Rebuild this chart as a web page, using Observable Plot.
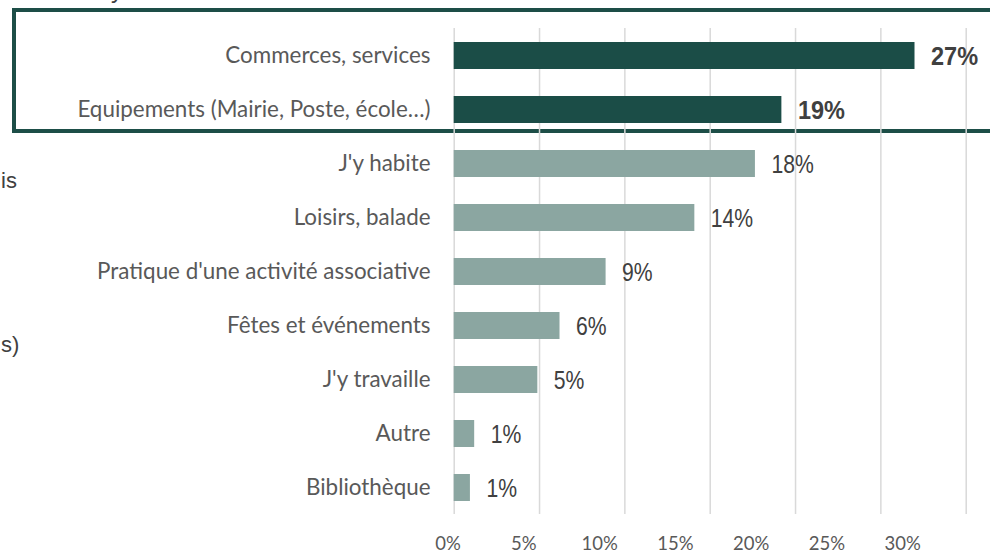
<!DOCTYPE html>
<html>
<head>
<meta charset="utf-8">
<script src="https://cdn.jsdelivr.net/npm/d3@7"></script>
<script src="https://cdn.jsdelivr.net/npm/@observablehq/plot@0.6"></script>
<style>
  html, body { margin: 0; padding: 0; background: #fff; }
  #wrap { position: relative; width: 990px; height: 552px; overflow: hidden; background: #fff; }
  #box { position: absolute; left: 12px; top: 8px; width: 1000px; height: 117px; border: 4px solid #1d4e47; z-index: 0; }
  #main, #ticks { position: absolute; left: 0; z-index: 1; }
  #main { top: 0; }
  #ticks { top: 517px; }
  .frag { position: absolute; font-family: "Liberation Sans", Arial, sans-serif; font-size: 22px; color: #404040; line-height: 24px; white-space: nowrap; z-index: 2; }
</style>
</head>
<body>
<div id="wrap">
  <div id="box"></div>
  <div class="frag" style="left:111px; top:-22px; font-size:24px;">y</div>
  <div class="frag" style="left:1px; top:169px;">is</div>
  <div class="frag" style="left:1px; top:333px;">s)</div>
  <div id="main"></div>
  <div id="ticks"></div>
</div>
<script>
const categories = [
  "Commerces, services",
  "Equipements (Mairie, Poste, école…)",
  "J'y habite",
  "Loisirs, balade",
  "Pratique d'une activité associative",
  "Fêtes et événements",
  "J'y travaille",
  "Autre",
  "Bibliothèque"
];
const values = [27.0, 19.2, 17.65, 14.1, 8.9, 6.2, 4.9, 1.2, 0.95];
const valueLabels = ["27%", "19%", "18%", "14%", "9%", "6%", "5%", "1%", "1%"];
const highlighted = [true, true, false, false, false, false, false, false, false];
const xTicks = [0, 5, 10, 15, 20, 25, 30];
const xTickLabels = ["0%", "5%", "10%", "15%", "20%", "25%", "30%"];

const data = categories.map((c, i) => ({cat: c, value: values[i], label: valueLabels[i], hi: highlighted[i]}));

const main = Plot.plot({
  width: 990,
  height: 552,
  marginLeft: 453.7,
  marginRight: 24.3,
  marginTop: 28,
  marginBottom: 38,
  style: {background: "transparent", overflow: "visible"},
  x: {domain: [0, 30], axis: null},
  y: {domain: categories, paddingInner: 0.5, paddingOuter: 0.25, label: null},
  marks: [
    Plot.ruleX(xTicks, {stroke: "#d9d9d9", strokeWidth: 1.5}),
    Plot.barX(data, {x: "value", y: "cat", fill: d => d.hi ? "#1b4d47" : "#8ba6a1"}),
    Plot.text(data.filter(d => d.hi), {x: "value", y: "cat", text: "label", dx: 16, dy: 1, textAnchor: "start",
      fontSize: 25, fontWeight: "bold", fill: "#404040", fontFamily: "'Liberation Sans', Arial, sans-serif"}),
    Plot.text(data.filter(d => !d.hi), {x: "value", y: "cat", text: "label", dx: 16, dy: 1, textAnchor: "start",
      fontSize: 25.5, fill: "#404040", fontFamily: "'Liberation Sans', Arial, sans-serif"}),
    Plot.axisY({tickSize: 0, tickPadding: 23.7, fontSize: 22.4, fill: "#595959", fontFamily: "Lato, sans-serif", label: null})
  ]
});
// narrow the value labels (the original uses a condensed face)
d3.select(main).selectAll('g[aria-label="text"] text').each(function() {
  const bold = this.parentNode.getAttribute("font-weight") === "bold";
  const s = bold ? 0.94 : 0.83;
  let t = this.getAttribute("transform");
  if (!t) {
    const x = +this.getAttribute("x") || 0, y = +this.getAttribute("y") || 0;
    this.removeAttribute("x"); this.removeAttribute("y");
    t = `translate(${x},${y})`;
  }
  this.setAttribute("transform", `${t} scale(${s},1)`);
});
document.getElementById("main").appendChild(main);

const ticks = Plot.plot({
  width: 990,
  height: 35,
  marginTop: 0,
  marginBottom: 19,
  style: {background: "transparent", overflow: "visible"},
  x: {domain: [0, 30], range: [447.6, 902.2]},
  marks: [
    Plot.axisX(xTicks, {tickSize: 0, tickPadding: 3, tickFormat: (d, i) => xTickLabels[i], fontSize: 18.5,
      fill: "#595959", fontFamily: "Lato, sans-serif", label: null})
  ]
});
document.getElementById("ticks").appendChild(ticks);
</script>
</body>
</html>
